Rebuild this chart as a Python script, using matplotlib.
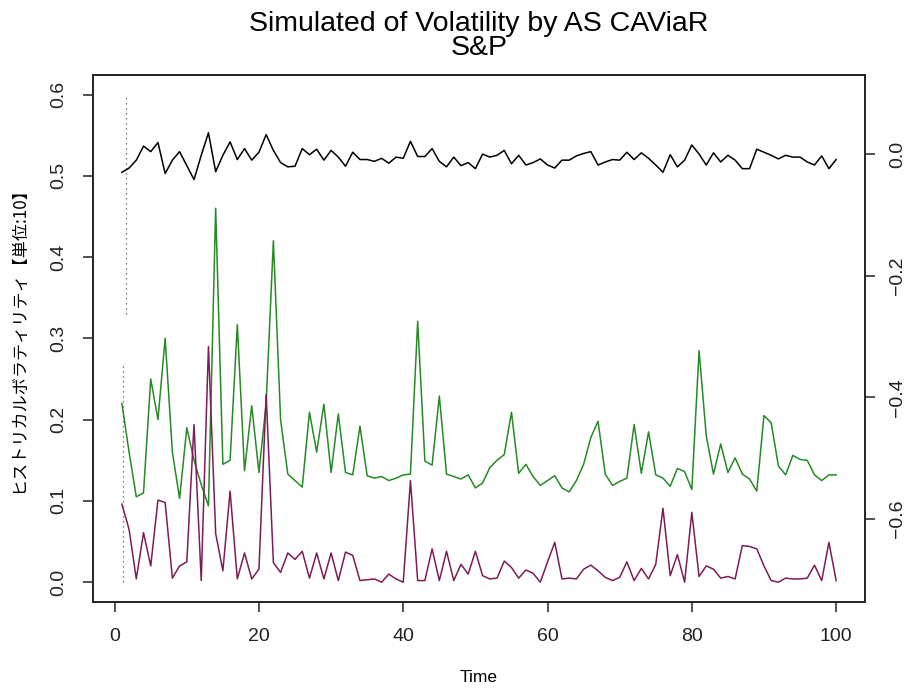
import matplotlib
matplotlib.use("Agg")
import matplotlib.pyplot as plt
import numpy as np

# ---- data ----
time = list(range(1, 101))

green = [0.22, 0.16, 0.105, 0.11, 0.25, 0.20, 0.30, 0.16, 0.103, 0.19,
         0.15, 0.12, 0.094, 0.46, 0.145, 0.15, 0.317, 0.137, 0.217, 0.135,
         0.22, 0.42, 0.20, 0.133, 0.125, 0.117, 0.209, 0.16, 0.219, 0.135,
         0.207, 0.135, 0.132, 0.192, 0.131, 0.128, 0.13, 0.125, 0.128, 0.132,
         0.133, 0.321, 0.149, 0.144, 0.229, 0.133, 0.13, 0.127, 0.132, 0.116,
         0.122, 0.141, 0.15, 0.157, 0.209, 0.134, 0.145, 0.13, 0.119, 0.125,
         0.131, 0.116, 0.111, 0.125, 0.145, 0.178, 0.198, 0.133, 0.119, 0.124,
         0.128, 0.194, 0.134, 0.185, 0.132, 0.128, 0.118, 0.14, 0.136, 0.114,
         0.285, 0.18, 0.133, 0.17, 0.135, 0.153, 0.133, 0.127, 0.112, 0.205,
         0.196, 0.143, 0.132, 0.156, 0.151, 0.15, 0.132, 0.125, 0.132, 0.132]

purple = [0.096, 0.065, 0.004, 0.061, 0.02, 0.101, 0.098, 0.005, 0.02, 0.025,
          0.194, 0.002, 0.29, 0.06, 0.014, 0.112, 0.004, 0.036, 0.004, 0.016,
          0.231, 0.024, 0.012, 0.036, 0.028, 0.038, 0.005, 0.036, 0.004, 0.036,
          0.002, 0.037, 0.033, 0.002, 0.003, 0.004, 0.0, 0.01, 0.004, 0.0,
          0.125, 0.002, 0.002, 0.041, 0.002, 0.038, 0.002, 0.022, 0.01, 0.038,
          0.008, 0.004, 0.005, 0.026, 0.018, 0.005, 0.015, 0.011, 0.0, 0.025,
          0.049, 0.004, 0.005, 0.004, 0.016, 0.021, 0.014, 0.006, 0.002, 0.006,
          0.025, 0.002, 0.017, 0.004, 0.022, 0.091, 0.008, 0.034, 0.0, 0.086,
          0.007, 0.02, 0.016, 0.005, 0.007, 0.004, 0.045, 0.044, 0.041, 0.02,
          0.002, 0.0, 0.005, 0.004, 0.004, 0.005, 0.021, 0.002, 0.049, 0.002]

black = [-0.030, -0.023, -0.010, 0.013, 0.004, 0.019, -0.032, -0.010, 0.004, -0.019,
         -0.042, -0.002, 0.035, -0.029, -0.002, 0.020, -0.009, 0.009, -0.010, 0.003,
         0.032, 0.006, -0.014, -0.021, -0.020, 0.009, -0.001, 0.008, -0.010, 0.006,
         -0.005, -0.020, 0.003, -0.009, -0.009, -0.012, -0.007, -0.015, -0.005, -0.007,
         0.021, -0.004, -0.004, 0.009, -0.012, -0.021, -0.005, -0.019, -0.014, -0.024,
         0.000, -0.005, -0.002, 0.006, -0.016, -0.002, -0.018, -0.014, -0.008, -0.018,
         -0.023, -0.010, -0.010, -0.003, 0.001, 0.004, -0.018, -0.013, -0.009, -0.010,
         0.003, -0.009, 0.002, -0.007, -0.018, -0.030, -0.001, -0.021, -0.010, 0.015,
         0.000, -0.018, 0.002, -0.013, -0.002, -0.010, -0.024, -0.024, 0.008, 0.003,
         -0.002, -0.008, -0.002, -0.005, -0.005, -0.013, -0.018, -0.003, -0.024, -0.009]

# dotted vertical marks near the start (x, y_from, y_to)
dotted_x = [1.6, 1.1]
dotted_lo = [0.33, 0.0]
dotted_hi = [0.60, 0.27]

x_ticks = [0, 20, 40, 60, 80, 100]
left_ticks = [0.0, 0.1, 0.2, 0.3, 0.4, 0.5, 0.6]
right_ticks = [-0.6, -0.4, -0.2, 0.0]

title = "Simulated of Volatility by AS CAViaR\nS&P"
xlabel = "Time"
ylabel = "ヒストリカルボラティリティ【単位:10】"

# ---- figure ----
W, H = 907, 691
fig = plt.figure(figsize=(W / 100, H / 100), dpi=100)
L, R, T, B = 93.3, 864.7, 75, 601.7
ax = fig.add_axes([L / W, 1 - B / H, (R - L) / W, (B - T) / H])
ax2 = ax.twinx()

lat = ["Liberation Sans", "DejaVu Sans"]
jp = ["Noto Sans CJK JP", "DejaVu Sans"]

green_c = "#268a26"
purple_c = "#7d1d58"

ax.plot(time, green, color=green_c, lw=1.1)
ax.plot(time, purple, color=purple_c, lw=1.1)
for xd, lo, hi in zip(dotted_x, dotted_lo, dotted_hi):
    ax.plot([xd, xd], [lo, hi], color="#555555", lw=0.9, ls=(0, (1, 3)))
ax2.plot(time, black, color="black", lw=1.1)

ax.set_xlim(-2.96, 103.96)
ax.set_ylim(-0.024, 0.624)
ax2.set_ylim(-0.736, 0.13)

ax.set_xticks(x_ticks)
ax.set_xticklabels([str(v) for v in x_ticks], fontfamily=lat, fontsize=14)
ax.set_yticks(left_ticks)
ax.set_yticklabels([f"{v:.1f}" for v in left_ticks], fontfamily=lat, fontsize=14,
                   rotation=90, va="center")
ax2.set_yticks(right_ticks)
ax2.set_yticklabels([f"{v:.1f}".replace("-", "\u2212") for v in right_ticks],
                    fontfamily=lat, fontsize=14, rotation=90, va="center")

for a in (ax, ax2):
    for s in a.spines.values():
        s.set_linewidth(1.2)
        s.set_color("#222222")
ax.tick_params(axis="x", length=7, width=1.1, pad=12, colors="#222222")
ax.tick_params(axis="y", length=7, width=1.1, pad=11.5, colors="#222222")
ax2.tick_params(axis="y", length=7, width=1.1, pad=10.5, colors="#222222")

fig.text(479 / W, 1 - 36 / H, title, ha="center", va="center",
         fontfamily=lat, fontsize=20.5, linespacing=0.88, multialignment="center")
fig.text(479 / W, 1 - 678 / H, xlabel, ha="center", va="center",
         fontfamily=lat, fontsize=12.5)
fig.text(18 / W, 1 - 336 / H, ylabel, ha="center", va="center",
         rotation=90, fontfamily=jp, fontsize=12.3)

fig.savefig("out.png", dpi=100)
